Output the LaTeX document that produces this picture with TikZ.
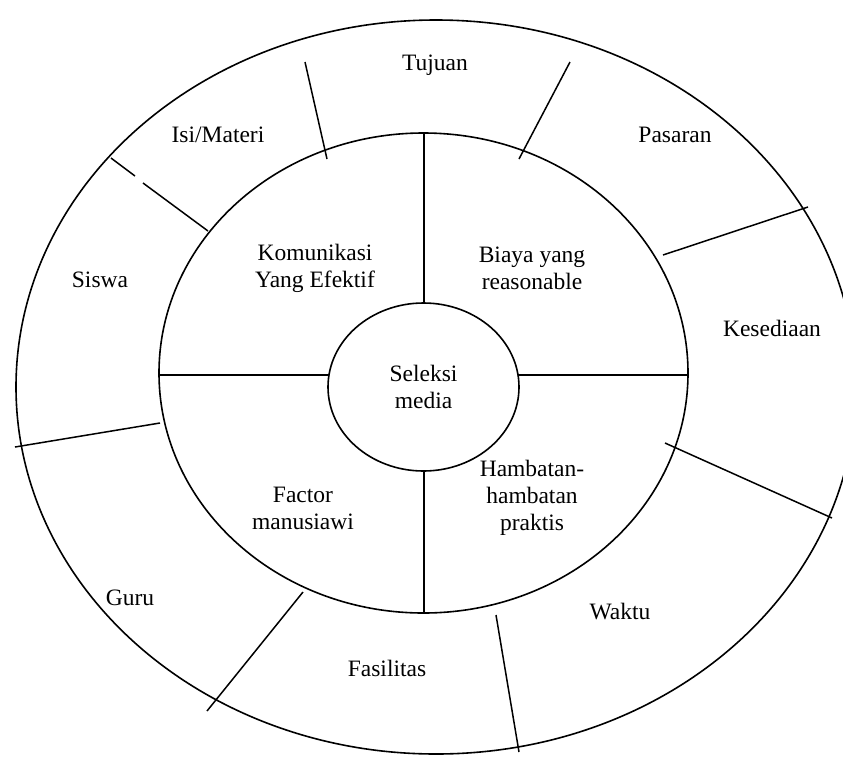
\documentclass[tikz,border=0pt]{standalone}
\usepackage{fontspec}
\setmainfont{Liberation Serif}
\usetikzlibrary{shapes.geometric}
\begin{document}
\begin{tikzpicture}[x=1pt,y=-1pt,
  ring/.style={draw, ellipse, line width=1.6pt, inner sep=0pt},
  lbl/.style={font=\fontsize{23.5}{27}\selectfont, align=center, inner sep=0pt},
  divider/.style={line width=1.5pt}]
\useasboundingbox (0,0) rectangle (843,756);
% rings
\begin{scope}
\clip (0,0) rectangle (843,756);
\node[ring, minimum width=840pt, minimum height=734pt] (outer) at (436,387) {};
\end{scope}
\node[ring, minimum width=529pt, minimum height=480pt] (mid) at (423.5,373) {};
\node[ring, minimum width=191pt, minimum height=168pt, lbl] (sel) at (423.5,387) {Seleksi\\media};
% inner dividers
\coordinate (vt1) at (424,133);
\coordinate (vt2) at (424,303);
\coordinate (vb1) at (424,471);
\coordinate (vb2) at (424,613);
\coordinate (hl1) at (159,375);
\coordinate (hl2) at (329,375);
\coordinate (hr1) at (518,375);
\coordinate (hr2) at (688,375);
\draw[divider] (vt1) -- (vt2);
\draw[divider] (vb1) -- (vb2);
\draw[divider] (hl1) -- (hl2);
\draw[divider] (hr1) -- (hr2);
% outer dividers
\coordinate (a1) at (305,62);  \coordinate (a2) at (327,159);
\coordinate (b1) at (570,62);  \coordinate (b2) at (519,159);
\coordinate (c1) at (663,255); \coordinate (c2) at (808,207);
\coordinate (d1) at (665,443); \coordinate (d2) at (832,518);
\coordinate (e1) at (496,615); \coordinate (e2) at (519,752);
\coordinate (f1) at (303,592); \coordinate (f2) at (207,711);
\coordinate (g1) at (160,423); \coordinate (g2) at (15,447);
\coordinate (h1) at (111,158); \coordinate (h2) at (135,176);
\coordinate (h3) at (143,183); \coordinate (h4) at (208,231);
\draw[divider] (a1) -- (a2);
\draw[divider] (b1) -- (b2);
\draw[divider] (c1) -- (c2);
\draw[divider] (d1) -- (d2);
\draw[divider] (e1) -- (e2);
\draw[divider] (f1) -- (f2);
\draw[divider] (g1) -- (g2);
\draw[divider] (h1) -- (h2);
\draw[divider] (h3) -- (h4);
% outer labels
\node[lbl] (tujuan) at (435,65) {Tujuan};
\node[lbl] (isi) at (218,135) {Isi/Materi};
\node[lbl] (pasaran) at (675,135) {Pasaran};
\node[lbl] (siswa) at (100,280) {Siswa};
\node[lbl] (kesediaan) at (772,328) {Kesediaan};
\node[lbl] (guru) at (130,598) {Guru};
\node[lbl] (fasilitas) at (387,668) {Fasilitas};
\node[lbl] (waktu) at (620,612) {Waktu};
% middle labels
\node[lbl] (kom) at (315,268) {Komunikasi\\Yang Efektif};
\node[lbl] (biaya) at (532,268) {Biaya yang\\reasonable};
\node[lbl] (factor) at (303,508) {Factor\\manusiawi};
\node[lbl] (hamb) at (532,498) {Hambatan-\\hambatan\\praktis};
\end{tikzpicture}
\end{document}
